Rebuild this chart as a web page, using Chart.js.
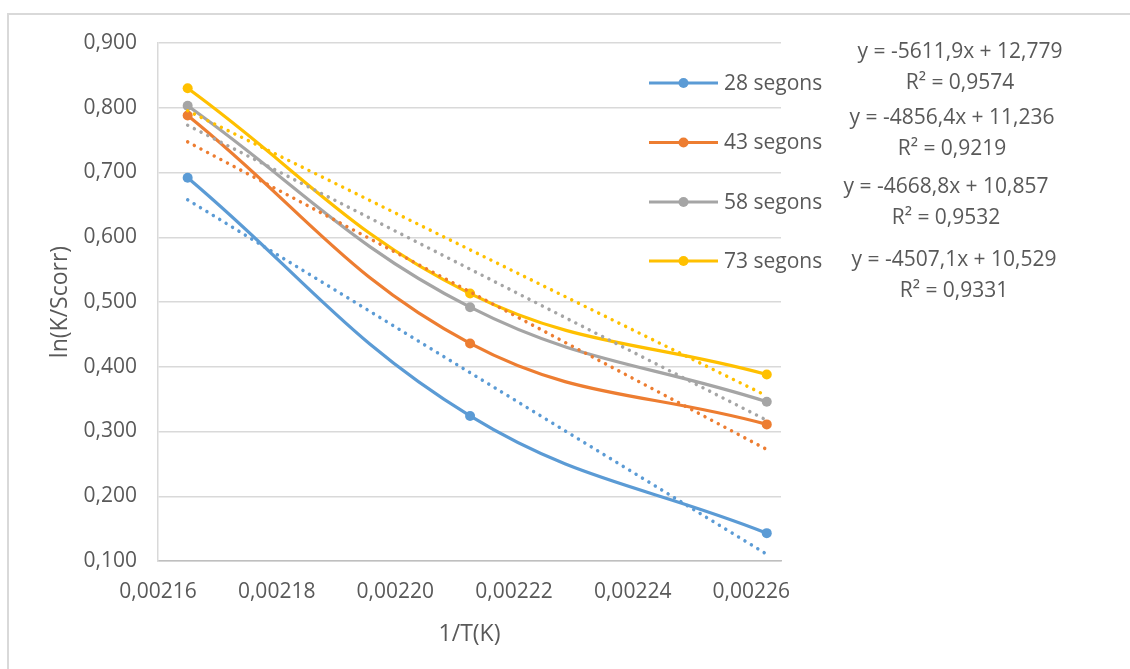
<!DOCTYPE html>
<html>
<head>
<meta charset="utf-8">
<script src="https://cdn.jsdelivr.net/npm/chart.js@4.4.0/dist/chart.umd.min.js"></script>
<style>
  html, body { margin: 0; padding: 0; background: #ffffff; }
  canvas { display: block; }
</style>
</head>
<body>
<canvas id="chart" width="1130" height="669"></canvas>
<script>
// 1/T (K^-1) for the three temperatures
const invT = [0.002165, 0.0022126, 0.0022626];

// ln(K/Scorr) for each immersion time
const seriesNames = ['28 segons', '43 segons', '58 segons', '73 segons'];
const s28 = [0.692, 0.324, 0.143];
const s43 = [0.788, 0.436, 0.311];
const s58 = [0.803, 0.492, 0.346];
const s73 = [0.830, 0.513, 0.388];

// Trendline labels
const fitEquations = ['y = -5611,9x + 12,779', 'y = -4856,4x + 11,236', 'y = -4668,8x + 10,857', 'y = -4507,1x + 10,529'];
const fitR2 = ['R² = 0,9574', 'R² = 0,9219', 'R² = 0,9532', 'R² = 0,9331'];

// Axis ticks
const xTicks = [0.00216, 0.00218, 0.00220, 0.00222, 0.00224, 0.00226];
const yTicks = [0.1, 0.2, 0.3, 0.4, 0.5, 0.6, 0.7, 0.8, 0.9];

const seriesValues = [s28, s43, s58, s73];
const colors = ['#5B9BD5', '#ED7D31', '#A5A5A5', '#FFC000'];
const textColor = '#595959';
const FONT = "'Open Sans', 'Noto Sans', sans-serif";

// Least-squares straight line through a series, drawn between first and last x
function linearTrend(xs, ys) {
  const n = xs.length;
  const mx = xs.reduce((a, b) => a + b, 0) / n;
  const my = ys.reduce((a, b) => a + b, 0) / n;
  let sxy = 0, sxx = 0;
  for (let i = 0; i < n; i++) {
    sxy += (xs[i] - mx) * (ys[i] - my);
    sxx += (xs[i] - mx) * (xs[i] - mx);
  }
  const slope = sxy / sxx;
  const icpt = my - slope * mx;
  return [xs[0], xs[n - 1]].map(x => ({ x: x, y: icpt + slope * x }));
}

const datasets = [];
seriesValues.forEach((vals, i) => {
  datasets.push({
    label: seriesNames[i],
    data: invT.map((x, k) => ({ x: x, y: vals[k] })),
    borderColor: colors[i],
    backgroundColor: colors[i],
    borderWidth: 3.2,
    tension: 0.4,
    pointRadius: 5,
    pointHoverRadius: 5,
    pointBorderWidth: 0,
    pointBackgroundColor: colors[i],
    order: 20 - i
  });
});
seriesValues.forEach((vals, i) => {
  datasets.push({
    label: seriesNames[i] + ' (lineal)',
    data: linearTrend(invT, vals),
    borderColor: colors[i],
    borderWidth: 3.5,
    borderDash: [0.01, 7.5],
    borderCapStyle: 'round',
    pointRadius: 0,
    tension: 0,
    order: 10 - i
  });
});

// Outer frame of the chart object
const framePlugin = {
  id: 'frame',
  beforeDraw(chart) {
    const ctx = chart.ctx;
    ctx.save();
    ctx.fillStyle = '#ffffff';
    ctx.fillRect(0, 0, chart.width, chart.height);
    ctx.strokeStyle = '#D9D9D9';
    ctx.lineWidth = 2;
    ctx.strokeRect(8, 14, chart.width + 20, chart.height + 20);
    ctx.restore();
  }
};

// Series legend and trendline equations on the right
const sideLabels = {
  id: 'sideLabels',
  afterDatasetsDraw(chart) {
    const ctx = chart.ctx;
    const legendY = [83, 142.5, 202, 261];
    const eqX = [960, 952, 946, 954];
    const eqY = [52, 118, 187, 260];
    ctx.save();
    ctx.font = '21px ' + FONT;
    ctx.textBaseline = 'middle';
    seriesNames.forEach((name, i) => {
      const y = legendY[i];
      ctx.strokeStyle = colors[i];
      ctx.lineWidth = 3.2;
      ctx.lineCap = 'butt';
      ctx.beginPath();
      ctx.moveTo(649, y);
      ctx.lineTo(718, y);
      ctx.stroke();
      ctx.fillStyle = colors[i];
      ctx.beginPath();
      ctx.arc(683.5, y, 5, 0, Math.PI * 2);
      ctx.fill();
      ctx.fillStyle = textColor;
      ctx.textAlign = 'left';
      ctx.fillText(name, 724, y + 1);
    });
    ctx.textAlign = 'center';
    ctx.fillStyle = textColor;
    fitEquations.forEach((eq, i) => {
      ctx.fillText(eq, eqX[i], eqY[i]);
      ctx.fillText(fitR2[i], eqX[i], eqY[i] + 31);
    });
    ctx.restore();
  }
};

new Chart(document.getElementById('chart'), {
  type: 'line',
  data: { datasets: datasets },
  plugins: [framePlugin, sideLabels],
  options: {
    responsive: false,
    animation: false,
    events: [],
    layout: { padding: { left: 0, top: 43, right: 349, bottom: 0 } },
    plugins: {
      legend: { display: false },
      tooltip: { enabled: false }
    },
    scales: {
      x: {
        type: 'linear',
        min: 0.00216,
        max: 0.002265,
        afterBuildTicks(scale) { scale.ticks = xTicks.map(v => ({ value: v })); },
        afterFit(scale) { scale.height = 108; },
        grid: { display: false, drawTicks: false },
        border: { display: true, color: '#BFBFBF', width: 1.5 },
        ticks: {
          padding: 18,
          color: textColor,
          font: { family: FONT, size: 21 },
          maxRotation: 0,
          autoSkip: false,
          callback: v => v.toFixed(5).replace('.', ',')
        },
        title: {
          display: true,
          text: '1/T(K)',
          color: textColor,
          font: { family: FONT, size: 23 },
          padding: { top: 0, bottom: 21 }
        }
      },
      y: {
        type: 'linear',
        min: 0.1,
        max: 0.9,
        afterBuildTicks(scale) { scale.ticks = yTicks.map(v => ({ value: v })); },
        afterFit(scale) { scale.width = 158; },
        grid: { display: true, drawTicks: false, color: '#D9D9D9', lineWidth: 1.5 },
        border: { display: true, color: '#D9D9D9', width: 1.5 },
        ticks: {
          padding: 21,
          color: textColor,
          font: { family: FONT, size: 21 },
          autoSkip: false,
          callback: v => v.toFixed(3).replace('.', ',')
        },
        title: {
          display: true,
          text: 'ln(K/Scorr)',
          color: textColor,
          font: { family: FONT, size: 23 },
          padding: { top: 47, bottom: 0 }
        }
      }
    }
  }
});
</script>
</body>
</html>
